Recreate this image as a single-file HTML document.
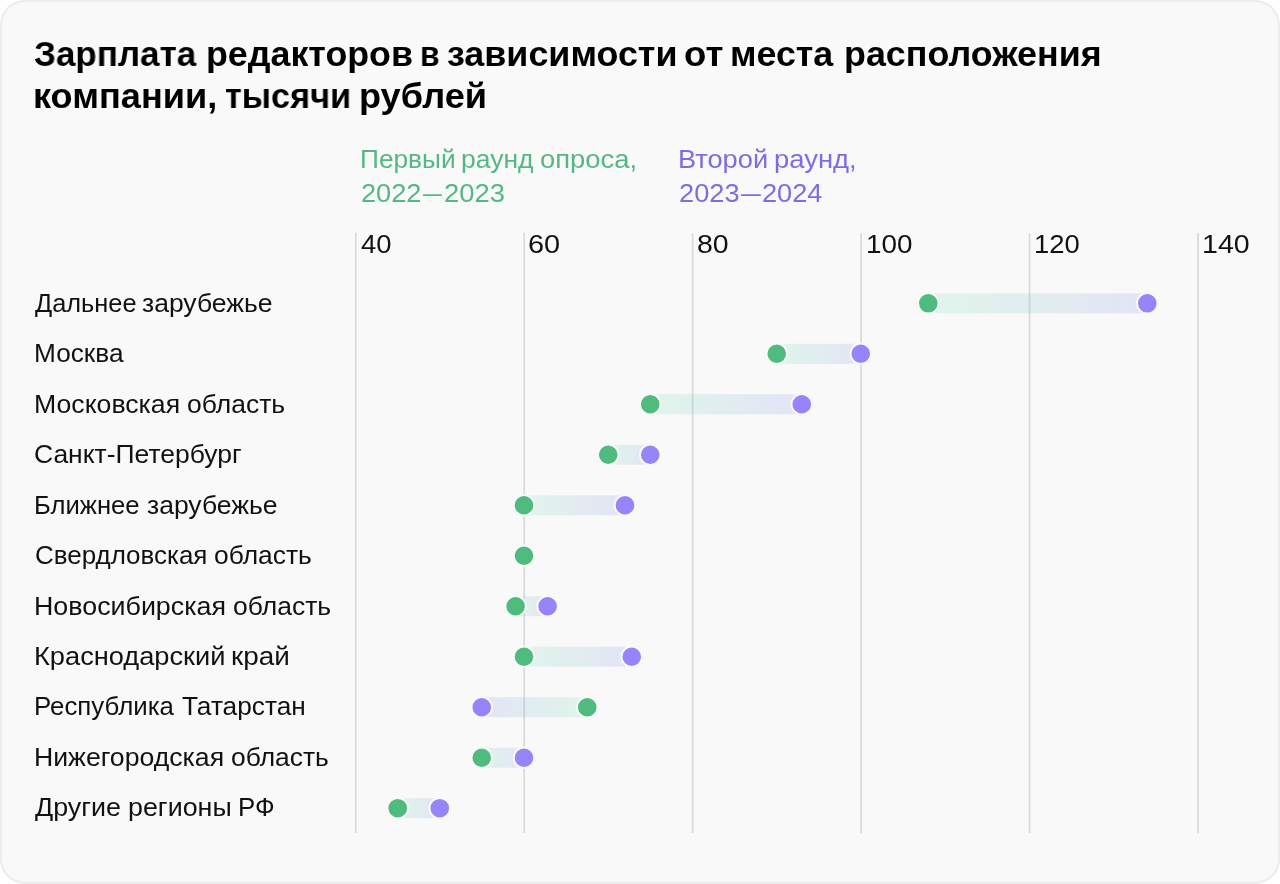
<!DOCTYPE html>
<html lang="ru"><head><meta charset="utf-8"><title>Chart</title>
<style>
html,body{margin:0;padding:0;background:#fff;}
body{width:1280px;height:884px;position:relative;overflow:hidden;font-family:"Liberation Sans",sans-serif;color:#111;}
.card{position:absolute;left:0;top:0;width:1276px;height:880px;border:2px solid #ececec;border-radius:25px;background:#f9f9f9;}
.t{position:absolute;height:40px;line-height:40px;white-space:nowrap;transform-origin:0 0;margin:0;will-change:transform;}
svg{position:absolute;left:0;top:0;}
</style></head><body>
<div class="card"></div>
<svg width="1280" height="884" viewBox="0 0 1280 884">
<defs><linearGradient id="g0" gradientUnits="userSpaceOnUse" x1="928.3" x2="1147.3" y1="0" y2="0"><stop offset="0" stop-color="#77e5ae"/><stop offset="1" stop-color="#8b90ea"/></linearGradient><linearGradient id="g1" gradientUnits="userSpaceOnUse" x1="776.75" x2="860.75" y1="0" y2="0"><stop offset="0" stop-color="#77e5ae"/><stop offset="1" stop-color="#8b90ea"/></linearGradient><linearGradient id="g2" gradientUnits="userSpaceOnUse" x1="650.25" x2="801.75" y1="0" y2="0"><stop offset="0" stop-color="#77e5ae"/><stop offset="1" stop-color="#8b90ea"/></linearGradient><linearGradient id="g3" gradientUnits="userSpaceOnUse" x1="608.25" x2="650.25" y1="0" y2="0"><stop offset="0" stop-color="#77e5ae"/><stop offset="1" stop-color="#8b90ea"/></linearGradient><linearGradient id="g4" gradientUnits="userSpaceOnUse" x1="524.0" x2="625.0" y1="0" y2="0"><stop offset="0" stop-color="#77e5ae"/><stop offset="1" stop-color="#8b90ea"/></linearGradient><linearGradient id="g6" gradientUnits="userSpaceOnUse" x1="515.6" x2="547.6" y1="0" y2="0"><stop offset="0" stop-color="#77e5ae"/><stop offset="1" stop-color="#8b90ea"/></linearGradient><linearGradient id="g7" gradientUnits="userSpaceOnUse" x1="524.0" x2="631.75" y1="0" y2="0"><stop offset="0" stop-color="#77e5ae"/><stop offset="1" stop-color="#8b90ea"/></linearGradient><linearGradient id="g8" gradientUnits="userSpaceOnUse" x1="481.75" x2="587.25" y1="0" y2="0"><stop offset="0" stop-color="#8b90ea"/><stop offset="1" stop-color="#77e5ae"/></linearGradient><linearGradient id="g9" gradientUnits="userSpaceOnUse" x1="481.75" x2="524.0" y1="0" y2="0"><stop offset="0" stop-color="#77e5ae"/><stop offset="1" stop-color="#8b90ea"/></linearGradient><linearGradient id="g10" gradientUnits="userSpaceOnUse" x1="397.75" x2="439.75" y1="0" y2="0"><stop offset="0" stop-color="#77e5ae"/><stop offset="1" stop-color="#8b90ea"/></linearGradient></defs>
<rect x="354.90" y="233" width="1.7" height="600" fill="#d9d9d9"/><rect x="523.35" y="233" width="1.7" height="600" fill="#d9d9d9"/><rect x="691.80" y="233" width="1.7" height="600" fill="#d9d9d9"/><rect x="860.25" y="233" width="1.7" height="600" fill="#d9d9d9"/><rect x="1028.70" y="233" width="1.7" height="600" fill="#d9d9d9"/><rect x="1197.15" y="233" width="1.7" height="600" fill="#d9d9d9"/>
<rect x="928.3" y="293.30" width="219.0" height="20" fill="url(#g0)" opacity="0.2"/><rect x="776.75" y="343.79" width="84.0" height="20" fill="url(#g1)" opacity="0.2"/><rect x="650.25" y="394.28" width="151.5" height="20" fill="url(#g2)" opacity="0.2"/><rect x="608.25" y="444.77" width="42.0" height="20" fill="url(#g3)" opacity="0.2"/><rect x="524.0" y="495.26" width="101.0" height="20" fill="url(#g4)" opacity="0.2"/><rect x="515.6" y="596.24" width="32.0" height="20" fill="url(#g6)" opacity="0.2"/><rect x="524.0" y="646.73" width="107.75" height="20" fill="url(#g7)" opacity="0.2"/><rect x="481.75" y="697.22" width="105.5" height="20" fill="url(#g8)" opacity="0.2"/><rect x="481.75" y="747.71" width="42.25" height="20" fill="url(#g9)" opacity="0.2"/><rect x="397.75" y="798.20" width="42.0" height="20" fill="url(#g10)" opacity="0.2"/>
<circle cx="1147.3" cy="303.30" r="10.3" fill="#9684fa" stroke="#f9f9f9" stroke-width="2"/><circle cx="928.3" cy="303.30" r="10.3" fill="#50bb7e" stroke="#f9f9f9" stroke-width="2"/><circle cx="860.75" cy="353.79" r="10.3" fill="#9684fa" stroke="#f9f9f9" stroke-width="2"/><circle cx="776.75" cy="353.79" r="10.3" fill="#50bb7e" stroke="#f9f9f9" stroke-width="2"/><circle cx="801.75" cy="404.28" r="10.3" fill="#9684fa" stroke="#f9f9f9" stroke-width="2"/><circle cx="650.25" cy="404.28" r="10.3" fill="#50bb7e" stroke="#f9f9f9" stroke-width="2"/><circle cx="650.25" cy="454.77" r="10.3" fill="#9684fa" stroke="#f9f9f9" stroke-width="2"/><circle cx="608.25" cy="454.77" r="10.3" fill="#50bb7e" stroke="#f9f9f9" stroke-width="2"/><circle cx="625.0" cy="505.26" r="10.3" fill="#9684fa" stroke="#f9f9f9" stroke-width="2"/><circle cx="524.0" cy="505.26" r="10.3" fill="#50bb7e" stroke="#f9f9f9" stroke-width="2"/><circle cx="524.0" cy="555.75" r="10.3" fill="#50bb7e" stroke="#f9f9f9" stroke-width="2"/><circle cx="547.6" cy="606.24" r="10.3" fill="#9684fa" stroke="#f9f9f9" stroke-width="2"/><circle cx="515.6" cy="606.24" r="10.3" fill="#50bb7e" stroke="#f9f9f9" stroke-width="2"/><circle cx="631.75" cy="656.73" r="10.3" fill="#9684fa" stroke="#f9f9f9" stroke-width="2"/><circle cx="524.0" cy="656.73" r="10.3" fill="#50bb7e" stroke="#f9f9f9" stroke-width="2"/><circle cx="481.75" cy="707.22" r="10.3" fill="#9684fa" stroke="#f9f9f9" stroke-width="2"/><circle cx="587.25" cy="707.22" r="10.3" fill="#50bb7e" stroke="#f9f9f9" stroke-width="2"/><circle cx="524.0" cy="757.71" r="10.3" fill="#9684fa" stroke="#f9f9f9" stroke-width="2"/><circle cx="481.75" cy="757.71" r="10.3" fill="#50bb7e" stroke="#f9f9f9" stroke-width="2"/><circle cx="439.75" cy="808.20" r="10.3" fill="#9684fa" stroke="#f9f9f9" stroke-width="2"/><circle cx="397.75" cy="808.20" r="10.3" fill="#50bb7e" stroke="#f9f9f9" stroke-width="2"/>
</svg>
<div class="t" style="left:33.50px;top:34.00px;font-size:35.8px;color:#000;font-weight:bold;transform:scaleX(0.9777)">Зарплата</div>
<div class="t" style="left:205.90px;top:34.00px;font-size:35.8px;color:#000;font-weight:bold;transform:scaleX(0.9978)">редакторов</div>
<div class="t" style="left:419.85px;top:34.00px;font-size:35.8px;color:#000;font-weight:bold;transform:scaleX(0.8874)">в</div>
<div class="t" style="left:446.61px;top:34.00px;font-size:35.8px;color:#000;font-weight:bold;transform:scaleX(1.0021)">зависимости</div>
<div class="t" style="left:683.59px;top:34.00px;font-size:35.8px;color:#000;font-weight:bold;transform:scaleX(1.0219)">от</div>
<div class="t" style="left:729.80px;top:34.00px;font-size:35.8px;color:#000;font-weight:bold;transform:scaleX(0.9959)">места</div>
<div class="t" style="left:843.61px;top:34.00px;font-size:35.8px;color:#000;font-weight:bold;transform:scaleX(1.0014)">расположения</div>
<div class="t" style="left:32.50px;top:76.00px;font-size:35.8px;color:#000;font-weight:bold;transform:scaleX(1.0102)">компании,</div>
<div class="t" style="left:224.57px;top:76.00px;font-size:35.8px;color:#000;font-weight:bold;transform:scaleX(0.9573)">тысячи</div>
<div class="t" style="left:358.53px;top:76.00px;font-size:35.8px;color:#000;font-weight:bold;transform:scaleX(1.0099)">рублей</div>
<div class="t" style="left:359.62px;top:139.23px;font-size:25.6px;color:#55b884;transform:scaleX(1.0268)">Первый</div>
<div class="t" style="left:460.52px;top:139.23px;font-size:25.6px;color:#55b884;transform:scaleX(1.0360)">раунд</div>
<div class="t" style="left:539.83px;top:139.23px;font-size:25.6px;color:#55b884;transform:scaleX(1.0716)">опроса,</div>
<div class="t" style="left:360.67px;top:172.83px;font-size:25.6px;color:#55b884;transform:scaleX(1.0625)">2022</div>
<div class="t" style="left:422.62px;top:172.83px;font-size:25.6px;color:#55b884;transform:scaleX(0.7418)">—</div>
<div class="t" style="left:443.56px;top:172.83px;font-size:25.6px;color:#55b884;transform:scaleX(1.0691)">2023</div>
<div class="t" style="left:677.57px;top:139.23px;font-size:25.6px;color:#7d6de4;transform:scaleX(1.0645)">Второй</div>
<div class="t" style="left:773.74px;top:139.23px;font-size:25.6px;color:#7d6de4;transform:scaleX(1.0719)">раунд,</div>
<div class="t" style="left:678.73px;top:172.83px;font-size:25.6px;color:#7d6de4;transform:scaleX(1.0629)">2023</div>
<div class="t" style="left:740.58px;top:172.83px;font-size:25.6px;color:#7d6de4;transform:scaleX(0.7786)">—</div>
<div class="t" style="left:761.73px;top:172.83px;font-size:25.6px;color:#7d6de4;transform:scaleX(1.0621)">2024</div>
<div class="t" style="left:360.63px;top:224.33px;font-size:25.6px;color:#111;transform:scaleX(1.0707)">40</div>
<div class="t" style="left:527.58px;top:224.33px;font-size:25.6px;color:#111;transform:scaleX(1.1275)">60</div>
<div class="t" style="left:696.62px;top:224.33px;font-size:25.6px;color:#111;transform:scaleX(1.1109)">80</div>
<div class="t" style="left:865.60px;top:224.33px;font-size:25.6px;color:#111;transform:scaleX(1.0879)">100</div>
<div class="t" style="left:1033.55px;top:224.33px;font-size:25.6px;color:#111;transform:scaleX(1.0700)">120</div>
<div class="t" style="left:1201.73px;top:224.33px;font-size:25.6px;color:#111;transform:scaleX(1.1164)">140</div>
<div class="t" style="left:34.53px;top:282.57px;font-size:25.2px;color:#111;transform:scaleX(1.0066)">Дальнее</div>
<div class="t" style="left:141.74px;top:282.57px;font-size:25.2px;color:#111;transform:scaleX(1.0523)">зарубежье</div>
<div class="t" style="left:33.71px;top:333.06px;font-size:25.2px;color:#111;transform:scaleX(1.0406)">Москва</div>
<div class="t" style="left:33.63px;top:383.55px;font-size:25.2px;color:#111;transform:scaleX(1.0577)">Московская</div>
<div class="t" style="left:186.67px;top:383.55px;font-size:25.2px;color:#111;transform:scaleX(1.0516)">область</div>
<div class="t" style="left:33.55px;top:434.04px;font-size:25.2px;color:#111;transform:scaleX(1.0506)">Санкт-Петербург</div>
<div class="t" style="left:33.74px;top:484.53px;font-size:25.2px;color:#111;transform:scaleX(1.0176)">Ближнее</div>
<div class="t" style="left:146.72px;top:484.53px;font-size:25.2px;color:#111;transform:scaleX(1.0523)">зарубежье</div>
<div class="t" style="left:34.53px;top:535.02px;font-size:25.2px;color:#111;transform:scaleX(1.0302)">Свердловская</div>
<div class="t" style="left:213.66px;top:535.02px;font-size:25.2px;color:#111;transform:scaleX(1.0486)">область</div>
<div class="t" style="left:33.69px;top:585.51px;font-size:25.2px;color:#111;transform:scaleX(1.0647)">Новосибирская</div>
<div class="t" style="left:232.66px;top:585.51px;font-size:25.2px;color:#111;transform:scaleX(1.0516)">область</div>
<div class="t" style="left:33.66px;top:636.00px;font-size:25.2px;color:#111;transform:scaleX(1.0807)">Краснодарский</div>
<div class="t" style="left:230.70px;top:636.00px;font-size:25.2px;color:#111;transform:scaleX(1.1079)">край</div>
<div class="t" style="left:34.03px;top:686.49px;font-size:25.2px;color:#111;transform:scaleX(1.0254)">Республика</div>
<div class="t" style="left:181.50px;top:686.49px;font-size:25.2px;color:#111;transform:scaleX(1.0423)">Татарстан</div>
<div class="t" style="left:33.51px;top:736.98px;font-size:25.2px;color:#111;transform:scaleX(1.0574)">Нижегородская</div>
<div class="t" style="left:230.66px;top:736.98px;font-size:25.2px;color:#111;transform:scaleX(1.0486)">область</div>
<div class="t" style="left:34.57px;top:787.47px;font-size:25.2px;color:#111;transform:scaleX(1.0666)">Другие</div>
<div class="t" style="left:127.74px;top:787.47px;font-size:25.2px;color:#111;transform:scaleX(1.0659)">регионы</div>
<div class="t" style="left:237.67px;top:787.47px;font-size:25.2px;color:#111;transform:scaleX(1.0265)">РФ</div>
</body></html>
